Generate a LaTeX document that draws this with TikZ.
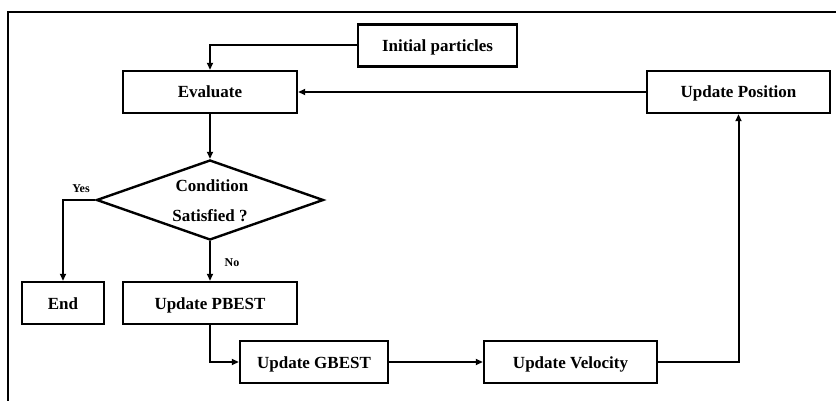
\documentclass[tikz,border=0pt]{standalone}
\usepackage{fontspec}
\setmainfont{Liberation Serif}
\usetikzlibrary{shapes.geometric,arrows.meta}
\begin{document}
\begin{tikzpicture}[x=1pt,y=-1pt,
  txt/.style={font=\fontsize{17}{19}\selectfont\bfseries,text height=12pt,text depth=0pt},
  stepbox/.style={txt,draw,line width=2.4pt,minimum height=42pt,inner sep=0pt},
  decision/.style={draw,line width=2.4pt,diamond,aspect=2.84,inner sep=0pt,
    minimum width=227pt,minimum height=80pt},
  flow/.style={line width=2pt,-{Triangle[length=7pt,width=6pt]}},
  lbl/.style={font=\fontsize{12}{14}\selectfont\bfseries}]
\useasboundingbox (0,0) rectangle (836,401);
% outer frame (top and left edges)
\draw[line width=2pt] (836,12) -- (8,12) -- (8,401);
% process steps
\node[stepbox,minimum width=159pt] (init) at (437.5,45.5) {Initial particles};
\node[stepbox,minimum width=174pt] (eval) at (210,92) {Evaluate};
\node[stepbox,minimum width=183pt] (pos) at (738.5,92) {Update Position};
\node[decision] (cond) at (210,200) {};
\node[txt] (condA) at (212,186) {Condition};
\node[txt] (condB) at (210,216) {Satisfied ?};
\node[stepbox,minimum width=82pt] (end) at (63,303) {End};
\node[stepbox,minimum width=174pt] (pbest) at (210,303) {Update PBEST};
\node[stepbox,minimum width=148pt] (gbest) at (314,362) {Update GBEST};
\node[stepbox,minimum width=173pt] (vel) at (570.5,362) {Update Velocity};
% connectors
\draw[flow] (init.west) -| (eval.north);
\draw[flow] (pos.west) -- (eval.east);
\draw[flow] (eval.south) -- (cond.north);
\draw[flow] (cond.west) -| (end.north);
\draw[flow] (cond.south) -- (pbest.north);
\draw[flow] (pbest.south) |- (gbest.west);
\draw[flow] (gbest.east) -- (vel.west);
\draw[flow] (vel.east) -| (pos.south);
% branch labels
\node[lbl] (yes) at (81,189) {Yes};
\node[lbl] (no) at (232,263) {No};
\end{tikzpicture}
\end{document}
